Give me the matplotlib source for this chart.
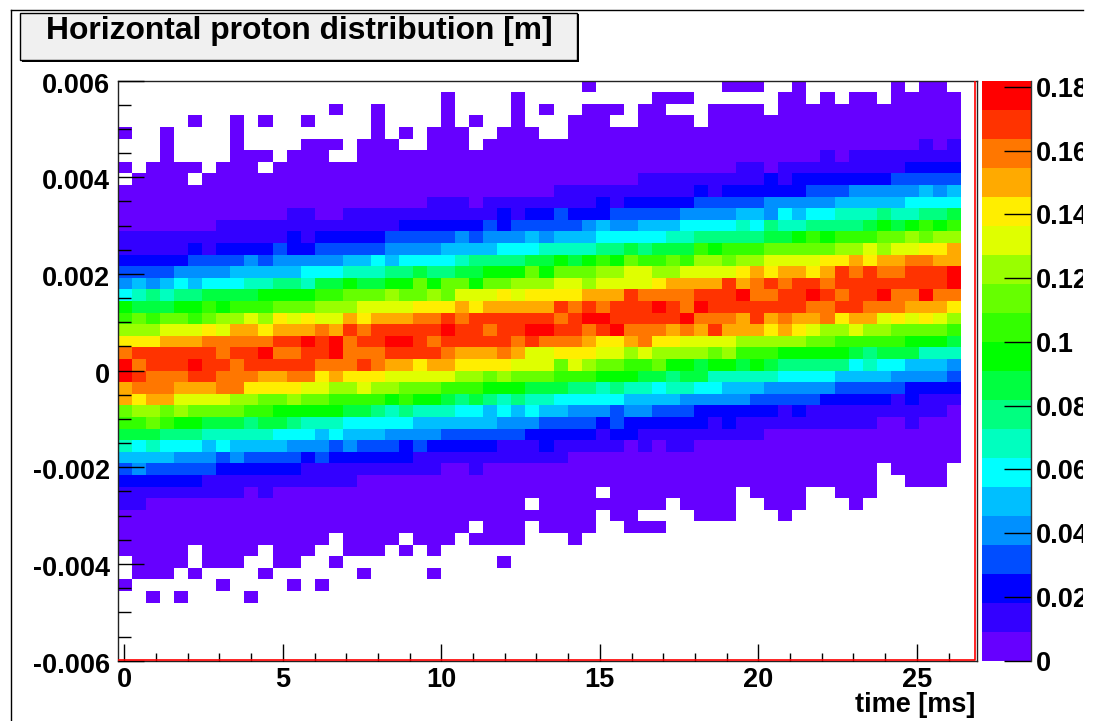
import numpy as np
import matplotlib
matplotlib.use('Agg')
from matplotlib import pyplot as plt
from matplotlib.colors import ListedColormap, BoundaryNorm
from matplotlib.patches import Rectangle
from matplotlib.lines import Line2D
from matplotlib.transforms import Bbox, Affine2D

plt.rcParams['font.family'] = ['Liberation Sans', 'DejaVu Sans']
plt.rcParams['font.weight'] = 'bold'

W, H = 1101, 721

# palette, lowest level first
level_colors = ['#6600ff', '#3300ff', '#0000ff', '#004dff', '#0090ff', '#00bfff', '#00ffff',
                '#00ffbf', '#00ff80', '#00ff40', '#00ff00', '#33ff00', '#66ff00', '#99ff00',
                '#dfff00', '#ffee00', '#ffaa00', '#ff7700', '#ff3300', '#ff0000']
level_names = 'abcdefghijklmnopqrst'

z_max = 0.182
x_start = -0.2
bin_width = 0.4432
n_cols = 60
n_rows = 50

# one line per row from the top, one letter per bin (colour level), '.' = empty bin
rows = [
    ".......... .......... .......... ...a...... ...aaa..a. .....a.aa.",
    ".......... .......... ...a....a. ........aa a......aa. a.aa.aaaaa",
    ".......... .....a..a. ...a....a. a..aaa.aa. ..aaaa.aaa aaaaaaaaaa",
    ".....a..a. a..a....a. ...a.a..a. ..aaa..aaa a.aaaaaaaa aaaaaaaaaa",
    "a..a....a. ........a. a.aaa..aaa ..aaaaaaaa aaaaaaaaaa aaaaaaaaaa",
    "...a....a. ...aaa.aaa ..aaa.aaaa aaaaaaaaaa aaaaaaaaaa aaaaaaabab",
    "...a....aa a.aaa..aaa aaaaaaaaaa aaaaaaaaaa aaaaaaaaaa babbbbbbbb",
    "a.aaaa.aaa .aaaaaaaaa aaaaaaaaaa aaaaaaaaaa aaaabbabbb bbbbbbcccc",
    ".aaaa.aaaa aaaaaaaaaa aaaaaaaaaa aaaaaaabbb bbbbbbcbcc cccccddddd",
    "aaaaaaaaaa aaaaaaaaaa aaaaaaaaaa abbbbbbbbb bcbccccccd ddeeeeefef",
    "aaaaaaaaaa aaaaaaaaaa aabbbabbbb bbbbcbcccc cdddddeeee efffffgggg",
    "aaaaaaaaaa aabbaabbbb bbbbbbbcbc cdcccddddd eeeeffegfg ghhhihhiij",
    "aaaaaaabbb bbbbbbbbbb ccccccdcdd dddefeefff gggghgihhi iiijkjklkl",
    "bbbbbbbbbb bbcbcccccd ddddedeeef efffgggggh hiiiiijjkl klllmmnmnn",
    "bbbbbcbccc cdccddddde eeeffffggg hhhhiijijj jlklllmmmm mnnonooppq",
    "cccccdddde deeeeeffgf gggghiiiij jkjklkmllm lnnmnnoooo ppqpqqrrqq",
    "ddddeeeeff fffggghhhi ijiijjkkkm kmmmnnoonn oooopqpqqp qsrsrrssst",
    "efefgfgggh hiihjjkjjk kmkmmkmmnn noonoooopq qqqsqrsrss rsssssssst",
    "ghihiijjjj kkkkllmmmn mmnmooopop pppqqqsrrr rssstrrsst srsstrrtrr",
    "kjjjkklkll lmmmnnnooo opppqpqqqq qsrsrsssts rtsssssssr rssrrrqqqp",
    "lmlmmlmnno npopooqpqq qrrsrsssss srsttsssss trrrqsqrqq rpqqopopon",
    "nnnooopoqq pqqqrqsrss ssstssrsst tssrstrrrq rqsqqqpqpo nnonnmmmml",
    "pppqqqrrrr rsststrsst tsrsssssrs rrrqppqrpp oooonnnnnm mlllllkkkj",
    "rssssssrss trrsstrrrs sssrqqqrqo opppoononn nnmnlllkkk kkjijjjhhh",
    "trssstssrs ssssrrrsrq qpqqppppoo omonmmllmk kjkkjkjiii iighggfffe",
    "tsrrrssrrr qqrrpqpppo oooonnmnmm mlllkkkjji jjhhhhhggg gffffeeeed",
    "qrrrqqqrrp pppoonnonn mmmlllkkkj jjiihihhgh hggfffeeee edddddcccc",
    "qpqqoooonn mmnmmllllk lkkjijihih hgggggffff eeeeeddddd cccccbcbbb",
    "mnnmnmmmml lkkkkkjjih ihhhggfgfg ffeeedeedd dccccccbcb bbbbbbbbba",
    "llmlkkjjji jjihhhgggg gffffffeee ddddcdcccc ccbcbbbbbb bbbbaabaaa",
    "jjjiiihhhh hgggfgfffe eeeddddddc ccccbccbbb bbbbbbaaaa aaaaaaaaaa",
    "hghgggfgff ffeeededdd cdcccccbbb cbbbbbabab baaaaaaaaa aaaaaaaaaa",
    "ffffeeeded dddcdccccc cbbbbbbbbb bbaaaaaaaa aaaaaaaaaa aaaaaaaaaa",
    "dedddddccc cccbbbbbbb bbbaabaaaa aaaaaaaaaa aaaaaaaaaa aaaa.aaaa.",
    "ccccccbbbb bbbbbbbaaa aaaaaaaaaa aaaaaaaaaa aaaaaaaaaa aaaa..aaa.",
    "bbbbbbbbba baaaaaaaaa aaaaaaaaaa aaaa.aaaaa aaaa.aaaa. .aaa......",
    "bbaaaaaaaa aaaaaaaaaa aaaaaaaaa. aaaaaaaaa. aaaa..aaa. ..a.......",
    "aaaaaaaaaa aaaaaaaaaa aaaaaaaaaa aaaa.aa... .aaa...a.. ..........",
    "aaaaaaaaaa aaaaaaaaaa aaaaa.aaa. aaaa..aaa. .......... ..........",
    "aaaaaaaaaa aaaaa.aaaa .aaa.aaaa. ..a....... .......... ..........",
    "aaaaa.aaaa .aaa..aaa. a.a....... .......... .......... ..........",
    ".aaaa.aaa. .aa..a.... .......a.. .......... .......... ..........",
    ".aaa.a.... a......a.. ..a....... .......... .......... ..........",
    "a......a.. ..a.a..... .......... .......... .......... ..........",
    "..a.a....a .......... .......... .......... .......... ..........",
    ".......... .......... .......... .......... .......... ..........",
    ".......... .......... .......... .......... .......... ..........",
    ".......... .......... .......... .......... .......... ..........",
    ".......... .......... .......... .......... .......... ..........",
    ".......... .......... .......... .......... .......... ..........",
]

x_ticks = [0, 5, 10, 15, 20, 25]
y_ticks = [-0.006, -0.004, -0.002, 0, 0.002, 0.004, 0.006]
y_labels = ['-0.006', '-0.004', '-0.002', '0', '0.002', '0.004', '0.006']
z_ticks = [0, 0.02, 0.04, 0.06, 0.08, 0.1, 0.12, 0.14, 0.16, 0.18]
z_labels = ['0', '0.02', '0.04', '0.06', '0.08', '0.1', '0.12', '0.14', '0.16', '0.18']

step = z_max / len(level_colors)
z = np.full((n_rows, n_cols), np.nan)
for i, row in enumerate(rows):
    row = row.replace(' ', '')
    for j, ch in enumerate(row):
        if ch != '.':
            z[n_rows - 1 - i, j] = (level_names.index(ch) + 0.5) * step

fig = plt.figure(figsize=(W / 100, H / 100), dpi=100)


def px_rect(left, top, right, bottom):
    return [left / W, 1 - bottom / H, (right - left) / W, (bottom - top) / H]


def pt(n_px):
    return n_px * 72 / 100


# pad frame
fig.add_artist(Line2D([10.5 / W, 10.5 / W], [0, 1 - 9.5 / H], color='black', lw=1))
fig.add_artist(Line2D([10.5 / W, 1083 / W], [1 - 9.5 / H, 1 - 9.5 / H], color='black', lw=1))

# title box with its shadow
fig.add_artist(Rectangle((22 / W, 1 - 62 / H), 557 / W, 48 / H, transform=fig.transFigure,
                         facecolor='black', edgecolor='none'))
fig.add_artist(Rectangle((20 / W, 1 - 60 / H), 557 / W, 47 / H, transform=fig.transFigure,
                         facecolor='#f0f0f0', edgecolor='black', lw=1))
fig.text(299 / W, 1 - 31 / H, 'Horizontal proton distribution [m]', ha='center', va='center',
         fontsize=22.9, color='black')

ax = fig.add_axes(px_rect(118, 80.5, 976.7, 660.7))
cmap = ListedColormap(level_colors)
cmap.set_bad('white')
bounds = np.linspace(0, z_max, len(level_colors) + 1)
norm = BoundaryNorm(bounds, cmap.N)
x_edges = x_start + bin_width * np.arange(n_cols + 1)
y_edges = np.linspace(-0.006, 0.006, n_rows + 1)
mesh = ax.pcolormesh(x_edges, y_edges, np.ma.masked_invalid(z), cmap=cmap, norm=norm)

x_end = x_start + 858.7 / 31.7
ax.set_xlim(x_start, x_end)
ax.set_ylim(-0.006, 0.006)

# histogram outline shows as red along the bottom and right
ax.plot([x_start, x_end - 0.05, x_end - 0.05], [-0.00598, -0.00598, 0.00598], color='red', lw=1.2, zorder=4)

ax.set_xticks(x_ticks)
ax.set_xticks(np.arange(0, 27, 1), minor=True)
ax.set_yticks(y_ticks)
ax.set_yticklabels(y_labels)
ax.set_yticks(np.arange(-0.006, 0.00601, 0.0005), minor=True)
ax.tick_params(axis='x', which='major', direction='in', length=pt(17), width=1, pad=4.5, labelsize=19.5, zorder=5)
ax.tick_params(axis='x', which='minor', direction='in', length=pt(8), width=1, zorder=5)
ax.tick_params(axis='y', which='major', direction='in', length=pt(26), width=1, pad=5.5, labelsize=19.5, zorder=5)
ax.tick_params(axis='y', which='minor', direction='in', length=pt(13), width=1, zorder=5)
for s in ax.spines.values():
    s.set_color('#222222')
    s.set_linewidth(1)
ax.set_axisbelow(False)

fig.text(975 / W, 1 - 705 / H, 'time [ms]', ha='right', va='center', fontsize=19.5, color='black')

# colour scale
cax = fig.add_axes(px_rect(982, 80.5, 1031, 660.7))
cbar = fig.colorbar(mesh, cax=cax, spacing='proportional', drawedges=False)
cbar.outline.set_visible(False)
cbar.set_ticks(z_ticks)
cbar.set_ticklabels(z_labels)
cax.minorticks_off()
cax.tick_params(axis='y', direction='in', length=pt(27), width=1, pad=3.5, labelsize=19.5, right=True)
cax.set_ylim(0, z_max)
cax.plot([1, 1], [0, 1], transform=cax.transAxes, color='#333333', lw=1, clip_on=False)
clip = Bbox([[1000, 0], [1083, H]])
for lab in cax.get_yticklabels():
    lab.set_clip_box(clip)
    lab.set_clip_on(True)

# the y labels sit a little under their ticks
for lab in ax.get_yticklabels():
    lab.set_transform(lab.get_transform() + Affine2D().translate(0, -2))

fig.savefig('out.png', dpi=100)
